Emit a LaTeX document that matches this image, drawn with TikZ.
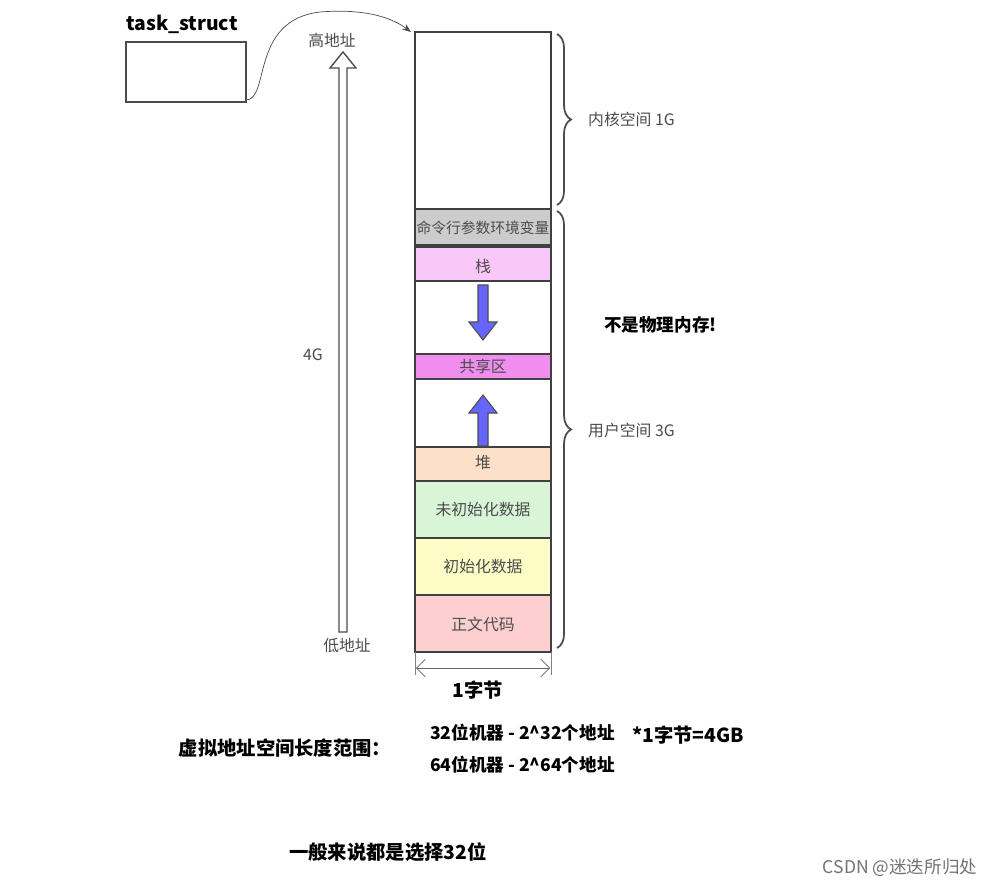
\documentclass[tikz,border=0pt]{standalone}
\usepackage{fontspec}
\setmainfont{Noto Sans CJK SC}
\usetikzlibrary{arrows.meta,decorations.pathreplacing}
\begin{document}
\begin{tikzpicture}[x=0.02cm,y=-0.02cm,
 seg/.style={draw=black!75,line width=1pt},
 lab/.style={font=\fontsize{9}{11}\selectfont,text=black!70},
 bl/.style={font=\bfseries\fontsize{11}{13}\selectfont},
 brc/.style={decorate,decoration={brace,amplitude=8pt},draw=black!70,line width=1pt},
 blue arrow/.style={draw=black!70,fill=blue!60!white,line width=0.6pt}]
\useasboundingbox (0,0) rectangle (986,885);
\fill[white] (0,0) rectangle (986,885);
% memory
\draw[seg] (415,32) rectangle (551,209);
\draw[seg,fill=black!20] (415,209) rectangle (551,245);
\draw[seg,fill={rgb,255:red,249;green,200;blue,249}] (415,247) rectangle (551,281);
\draw[seg] (415,281) rectangle (551,354);
\draw[seg,fill={rgb,255:red,240;green,142;blue,240}] (415,354) rectangle (551,379);
\draw[seg] (415,379) rectangle (551,447);
\draw[seg,fill={rgb,255:red,253;green,224;blue,200}] (415,447) rectangle (551,481);
\draw[seg,fill={rgb,255:red,216;green,245;blue,216}] (415,481) rectangle (551,538);
\draw[seg,fill={rgb,255:red,253;green,253;blue,200}] (415,538) rectangle (551,595);
\draw[seg,fill={rgb,255:red,252;green,208;blue,208}] (415,595) rectangle (551,652);
\node[lab,font=\fontsize{8.4}{10}\selectfont] (cmd) at (483,228) {命令行参数环境变量};
\node[lab] (stk) at (483,266) {栈};
\node[lab] (shr) at (483,366) {共享区};
\node[lab] (heap) at (483,463) {堆};
\node[lab] (bss) at (483,510) {未初始化数据};
\node[lab] (dat) at (483,567) {初始化数据};
\node[lab] (txt) at (483,624) {正文代码};
% blue arrows
\draw[blue arrow] (478,285)--(488,285)--(488,322)--(497,322)--(483,340)--(469,322)--(478,322)--cycle;
\draw[blue arrow] (478,446)--(488,446)--(488,413)--(497,413)--(483,395)--(469,413)--(478,413)--cycle;
% braces
\draw[brc] (557,34) -- (557,205);
\draw[brc] (557,211) -- (557,648);
\node[lab,anchor=west] (kern) at (582,119) {内核空间 1G};
\node[lab,anchor=west] (user) at (582,430) {用户空间 3G};
\node[bl,font=\bfseries\fontsize{10}{12}\selectfont,anchor=west] (np) at (598,325) {不是物理内存!};
% big hollow arrow
\draw[draw=black!70,fill=white,line width=0.8pt] (339,632)--(347,632)--(347,68)--(356,68)--(343,52)--(330,68)--(339,68)--cycle;
\node[lab] (hi) at (332,40) {高地址};
\node[lab] (g4) at (313,355) {4G};
\node[lab] (lo) at (347,646) {低地址};
% task_struct
\draw[black!70,line width=0.8pt] (126,42) rectangle (246,102);
\coordinate (ts) at (246,100);
\node[bl] (tsl) at (182,24) {task\_struct};
\coordinate (mt) at (411,32);
\draw[black!70,-{Stealth[length=5pt]}] (ts) .. controls (270,100) and (250,20) .. (320,12) .. controls (370,8) and (395,20) .. (mt);
% width
\draw[black!60,{Straight Barb[length=5pt]}-{Straight Barb[length=5pt]}] (416,668) -- (550,668);
\draw[black!50] (415,652)--(415,675) (551,652)--(551,675);
\node[bl] (byte) at (478,690) {1字节};
% bottom text
\node[bl] (rng) at (285,748) {虚拟地址空间长度范围：};
\node[bl,font=\bfseries\fontsize{10}{12}\selectfont,anchor=west] (m32) at (424,733) {32位机器 - 2\textasciicircum32个地址};
\node[bl,anchor=west] (gb) at (626,735) {*1字节=4GB};
\node[bl,font=\bfseries\fontsize{10}{12}\selectfont,anchor=west] (m64) at (424,765) {64位机器 - 2\textasciicircum64个地址};
\node[bl] (gen) at (388,852) {一般来说都是选择32位};
\node[font=\fontsize{10}{12}\selectfont,text=black!55] (csdn) at (900,868) {CSDN @迷迭所归处};
\end{tikzpicture}
\end{document}
